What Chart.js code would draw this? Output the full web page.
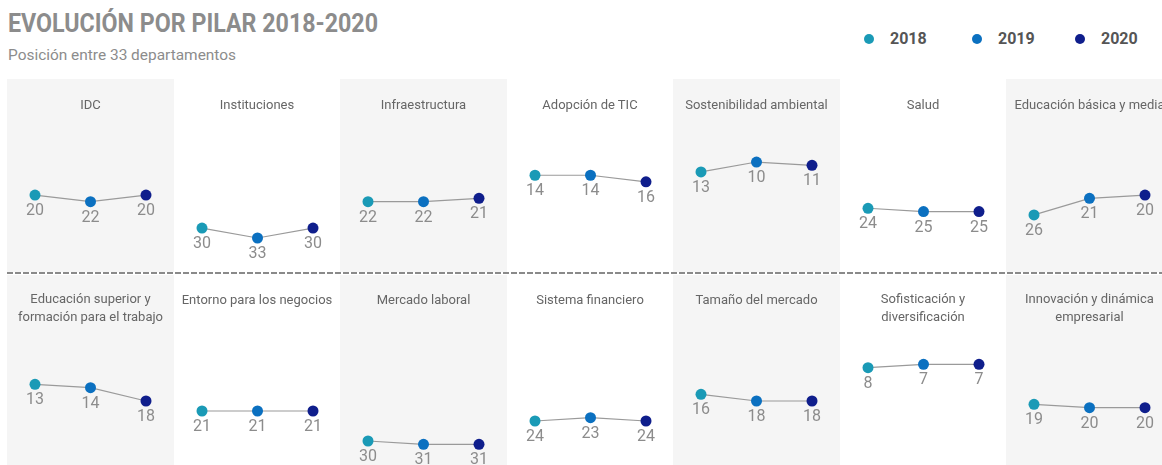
<!DOCTYPE html>
<html>
<head>
<meta charset="utf-8">
<script src="https://cdn.jsdelivr.net/npm/chart.js@4.4.1/dist/chart.umd.min.js"></script>
<style>
  body { margin: 0; width: 1162px; height: 465px; overflow: hidden; background: #fff; font-family: Roboto, sans-serif; position: relative; }
  #title { position: absolute; left: 8px; top: 8px; font-family: Roboto, sans-serif; font-weight: bold; font-size: 26px; color: #8c8c8c; white-space: nowrap; transform-origin: 0 0; }
  #subtitle { position: absolute; left: 8px; top: 46px; font-size: 15px; color: #8c8c8c; white-space: nowrap; transform-origin: 0 0; }
  .legend { position: absolute; top: 29px; font-size: 16px; font-weight: bold; color: #555; white-space: nowrap; }
  .legend i { display: inline-block; width: 10px; height: 10px; border-radius: 50%; margin-right: 16px; vertical-align: 0px; }
  .panel { position: absolute; }
  .panel.gray { background: #f5f5f5; }
  .panel canvas { position: absolute; left: 0; top: 0; }
  .ptitle { position: absolute; left: 0; width: 100%; text-align: center; font-size: 13px; line-height: 18px; color: #666; }
  #dash { position: absolute; left: 7px; top: 272px; width: 1155px; height: 2px; background-image: repeating-linear-gradient(to right, #8a8a8a 0 6px, transparent 6px 8px); }
</style>
</head>
<body>
<div id="title">EVOLUCIÓN POR PILAR 2018-2020</div>
<div id="subtitle">Posición entre 33 departamentos</div>
<div id="dash"></div>
<script>
// ranking por pilar (posición entre 33 departamentos)
const years = ['2018', '2019', '2020'];
const pillars = [
  ['IDC'], ['Instituciones'], ['Infraestructura'], ['Adopción de TIC'],
  ['Sostenibilidad ambiental'], ['Salud'], ['Educación básica y media'],
  ['Educación superior y', 'formación para el trabajo'], ['Entorno para los negocios'],
  ['Mercado laboral'], ['Sistema financiero'], ['Tamaño del mercado'],
  ['Sofisticación y', 'diversificación'], ['Innovación y dinámica', 'empresarial']
];
const rank2018 = [20, 30, 22, 14, 13, 24, 26, 13, 21, 30, 24, 16, 8, 19];
const rank2019 = [22, 33, 22, 14, 10, 25, 21, 14, 21, 31, 23, 18, 7, 20];
const rank2020 = [20, 30, 21, 16, 11, 25, 20, 18, 21, 31, 24, 18, 7, 20];
const totalDeptos = 33;

const yearColors = ['#1a9ab6', '#0b70c0', '#0f1e8c'];

// squeeze heading text to the condensed width of the original
function fitWidth(id, target) {
  const el = document.getElementById(id);
  const w = el.getBoundingClientRect().width;
  el.style.transform = 'scaleX(' + (target / w) + ')';
}
fitWidth('title', 370);
fitWidth('subtitle', 228);

// legend
const legendX = [864, 972, 1075];
years.forEach((y, k) => {
  const el = document.createElement('div');
  el.className = 'legend';
  el.style.left = legendX[k] + 'px';
  el.innerHTML = '<i style="background:' + yearColors[k] + '"></i>' + y;
  document.body.appendChild(el);
});

const valueLabels = {
  id: 'valueLabels',
  afterDatasetsDraw(chart) {
    const ctx = chart.ctx;
    const ds = chart.data.datasets[0];
    ctx.save();
    ctx.font = '16px Roboto';
    ctx.fillStyle = '#8c8c8c';
    ctx.textAlign = 'center';
    ctx.textBaseline = 'middle';
    chart.getDatasetMeta(0).data.forEach((pt, j) => {
      ctx.fillText(ds.data[j], pt.x, pt.y + 16);
    });
    ctx.restore();
  }
};

const left0 = 7, panelW = 166.5;
const rows = [
  { top: 79, h: 193, padTop: 50, padBottom: 34, titleTop: 17 },
  { top: 275, h: 190, padTop: 66, padBottom: 14, titleTop: 16 }
];

pillars.forEach((lines, i) => {
  const row = rows[Math.floor(i / 7)];
  const col = i % 7;
  const x0 = Math.round(left0 + col * panelW);
  const x1 = Math.round(left0 + (col + 1) * panelW);
  const w = x1 - x0;

  const panel = document.createElement('div');
  panel.className = 'panel' + (col % 2 === 0 ? ' gray' : '');
  panel.style.left = x0 + 'px';
  panel.style.top = row.top + 'px';
  panel.style.width = w + 'px';
  panel.style.height = row.h + 'px';

  const canvas = document.createElement('canvas');
  canvas.width = w;
  canvas.height = row.h;
  panel.appendChild(canvas);

  const t = document.createElement('div');
  t.className = 'ptitle';
  t.style.top = (lines.length > 1 ? row.titleTop - 1 : row.titleTop) + 'px';
  t.innerHTML = lines.join('<br>');
  panel.appendChild(t);
  document.body.appendChild(panel);

  new Chart(canvas, {
    type: 'line',
    data: {
      labels: years,
      datasets: [{
        data: [rank2018[i], rank2019[i], rank2020[i]],
        borderColor: '#9a9a9a',
        borderWidth: 1.2,
        pointBackgroundColor: yearColors,
        pointBorderWidth: 0,
        pointRadius: 5.5,
        tension: 0,
        clip: false
      }]
    },
    options: {
      responsive: false,
      animation: false,
      events: [],
      layout: { padding: { left: 28, right: w - 139, top: row.padTop, bottom: row.padBottom } },
      scales: {
        x: { display: false, offset: false },
        y: { display: false, min: 0, max: totalDeptos, reverse: true }
      },
      plugins: { legend: { display: false }, tooltip: { enabled: false } }
    },
    plugins: [valueLabels]
  });
});
</script>
</body>
</html>
